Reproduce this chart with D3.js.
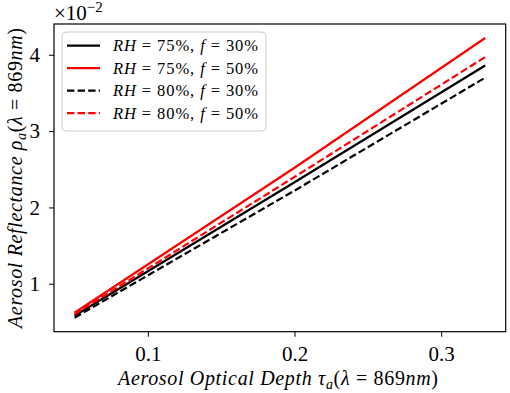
<!DOCTYPE html>
<html>
<head>
<meta charset="utf-8">
<script src="https://cdn.jsdelivr.net/npm/d3@7"></script>
<style>
  body { margin: 0; background: #fff; }
  svg { display: block; }
  text { font-family: "Liberation Serif", "DejaVu Serif", serif; fill: #000; }
</style>
</head>
<body>
<div id="chart"></div>
<script>
// optical depth at 869nm
var tau = [0.05, 0.2, 0.33];

// reflectance for each case (real values, axis shows x1e-2)
var rh75f30 = [0.0058, 0.0233, 0.0386];
var rh75f50 = [0.0062, 0.0252, 0.0422];
var rh80f30 = [0.00555, 0.0222, 0.0370];
var rh80f50 = [0.0060, 0.0240, 0.0397];

var seriesNames = [["RH", " = 75%, ", "f", " = 30%"],
                   ["RH", " = 75%, ", "f", " = 50%"],
                   ["RH", " = 80%, ", "f", " = 30%"],
                   ["RH", " = 80%, ", "f", " = 50%"]];

var xTicks = [0.1, 0.2, 0.3];
var yTicks = [0.01, 0.02, 0.03, 0.04];

function init() {
    var w = 510;
    var h = 393;
    var m = {left: 54, right: 4.3, top: 24, bottom: 61.3};

    var all = [rh75f30, rh75f50, rh80f30, rh80f50];
    var styles = [
        {color: "#000", dash: null},
        {color: "#ff0000", dash: null},
        {color: "#000", dash: "7.4,3.2"},
        {color: "#ff0000", dash: "7.4,3.2"}
    ];

    // matplotlib-like 5% margins
    var xMin = d3.min(tau), xMax = d3.max(tau);
    var yMin = d3.min(all, function(s) { return d3.min(s); });
    var yMax = d3.max(all, function(s) { return d3.max(s); });
    var xPad = (xMax - xMin) * 0.05, yPad = (yMax - yMin) * 0.05;

    var xScale = d3.scaleLinear()
                   .domain([xMin - xPad, xMax + xPad])
                   .range([m.left, w - m.right]);

    var yScale = d3.scaleLinear()
                   .domain([yMin - yPad, yMax + yPad])
                   .range([h - m.bottom, m.top]);

    var svg = d3.select("#chart")
                .append("svg")
                .attr("width", w)
                .attr("height", h);

    var line = d3.line()
                 .x(function(d) { return xScale(d[0]); })
                 .y(function(d) { return yScale(d[1]); });

    all.forEach(function(s, i) {
        svg.append("path")
           .datum(tau.map(function(t, j) { return [t, s[j]]; }))
           .attr("d", line)
           .attr("fill", "none")
           .attr("stroke", styles[i].color)
           .attr("stroke-width", 2.2)
           .attr("stroke-dasharray", styles[i].dash);
    });

    var xAxis = d3.axisBottom(xScale)
                  .tickValues(xTicks)
                  .tickSize(5)
                  .tickPadding(9)
                  .tickFormat(d3.format(".1f"));

    var yAxis = d3.axisLeft(yScale)
                  .tickValues(yTicks)
                  .tickSize(5)
                  .tickPadding(9)
                  .tickFormat(function(d) { return Math.round(d * 100); });

    var gx = svg.append("g")
       .attr("transform", "translate(0," + (h - m.bottom) + ")")
       .call(xAxis);
    var gy = svg.append("g")
       .attr("transform", "translate(" + m.left + ",0)")
       .call(yAxis);

    [gx, gy].forEach(function(g) {
        g.select(".domain").remove();
        g.selectAll(".tick line").attr("stroke", "#000").attr("stroke-width", 1);
        g.selectAll(".tick text")
         .style("font-family", "Liberation Serif")
         .style("font-size", "21px");
    });

    // frame
    svg.append("rect")
       .attr("x", m.left)
       .attr("y", m.top)
       .attr("width", w - m.left - m.right)
       .attr("height", h - m.top - m.bottom)
       .attr("fill", "none")
       .attr("stroke", "#000")
       .attr("stroke-width", 1.2);

    // offset text
    var off = svg.append("text")
       .attr("x", m.left)
       .attr("y", 20)
       .style("font-size", "21px");
    off.append("tspan").text("\u00d710");
    off.append("tspan").attr("dy", -8).style("font-size", "15px").text("\u22122");

    // legend
    var lg = svg.append("g");
    lg.append("rect")
      .attr("x", 62)
      .attr("y", 32)
      .attr("width", 204)
      .attr("height", 99)
      .attr("rx", 4)
      .attr("fill", "#fff")
      .attr("fill-opacity", 0.8)
      .attr("stroke", "#ccc")
      .attr("stroke-width", 1);

    seriesNames.forEach(function(n, i) {
        var yy = 45.7 + i * 22.5;
        lg.append("line")
          .attr("x1", 67).attr("x2", 100)
          .attr("y1", yy).attr("y2", yy)
          .attr("stroke", styles[i].color)
          .attr("stroke-width", 2.2)
          .attr("stroke-dasharray", styles[i].dash);
        var t = lg.append("text")
          .attr("x", 113)
          .attr("y", yy + 5.5)
          .attr("textLength", 145)
          .attr("lengthAdjust", "spacing")
          .style("font-size", "16.5px");
        t.append("tspan").style("font-style", "italic").text(n[0]);
        t.append("tspan").text(n[1]);
        t.append("tspan").style("font-style", "italic").text(n[2]);
        t.append("tspan").text(n[3]);
    });

    // axis labels
    var xl = svg.append("text")
       .attr("x", 118)
       .attr("y", 385)
       .attr("textLength", 320)
       .attr("lengthAdjust", "spacing")
       .style("font-size", "20px");
    xl.append("tspan").style("font-style", "italic").text("Aerosol Optical Depth \u03c4");
    xl.append("tspan").style("font-style", "italic").style("font-size", "14px").attr("dy", 4).text("a");
    xl.append("tspan").attr("dy", -4).text("(");
    xl.append("tspan").style("font-style", "italic").text("\u03bb");
    xl.append("tspan").text(" = 869");
    xl.append("tspan").style("font-style", "italic").text("nm");
    xl.append("tspan").text(")");

    var yl = svg.append("text")
       .attr("transform", "translate(22,328) rotate(-90)")
       .attr("textLength", 300)
       .attr("lengthAdjust", "spacing")
       .style("font-size", "20px");
    yl.append("tspan").style("font-style", "italic").text("Aerosol Reflectance \u03c1");
    yl.append("tspan").style("font-style", "italic").style("font-size", "14px").attr("dy", 4).text("a");
    yl.append("tspan").attr("dy", -4).text("(");
    yl.append("tspan").style("font-style", "italic").text("\u03bb");
    yl.append("tspan").text(" = 869");
    yl.append("tspan").style("font-style", "italic").text("nm");
    yl.append("tspan").text(")");
}

window.onload = init;
</script>
</body>
</html>
